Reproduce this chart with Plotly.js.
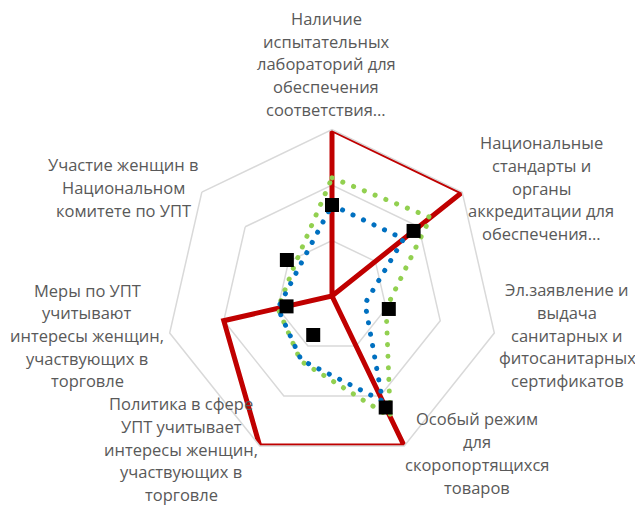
<!DOCTYPE html>
<html>
<head>
<meta charset="utf-8">
<script src="https://cdn.plot.ly/plotly-3.0.1.min.js"></script>
<style>
  html, body { margin: 0; padding: 0; background: #ffffff; }
  #chart { width: 635px; height: 506px; }
  .scatterlayer path.js-line { stroke-linecap: round; }
</style>
</head>
<body>
<div id="chart"></div>
<script>
// Categories (radar axes, clockwise from top); "\n" marks the wrapped lines
const categories = [
  "Наличие\nиспытательных\nлабораторий для\nобеспечения\nсоответствия…",
  "Национальные\nстандарты и\nорганы\nаккредитации для\nобеспечения…",
  "Эл.заявление и\nвыдача\nсанитарных и\nфитосанитарных\nсертификатов",
  "Особый режим\nдля\nскоропортящихся\nтоваров",
  "Политика в сфере\nУПТ учитывает\nинтересы женщин,\nучаствующих в\nторговле",
  "Меры по УПТ\nучитывают\nинтересы женщин,\nучаствующих в\nторговле",
  "Участие женщин в\nНациональном\nкомитете по УПТ"
];

// Series values (scale 0–3)
const redValues   = [3.0, 3.0, 0.0, 3.0, 3.0, 2.0, 0.0];
const greenValues = [2.13, 2.27, 1.0, 2.42, 1.3, 1.0, 0.87];
const blueValues  = [1.64, 1.65, 0.61, 2.10, 1.28, 1.0, 0.78];
const blackValues = [1.64, 1.88, 1.05, 2.23, 0.78, 0.84, 1.04];

const radialTicks = [0, 1, 2, 3];

// label block centres in pixels (layout, not data)
const labelPos = [
  [326, 64], [541, 188], [567, 335], [477, 453],
  [181, 449], [87, 335.5], [123, 187.5]
];
const lineStep = 22.7;

const W = 635, H = 506;
const cx = 332, cy = 296, R = 166.5;

function closed(arr) { return arr.concat([arr[0]]); }

const traces = [
  {
    type: 'scatterpolar', mode: 'lines',
    r: closed(redValues), theta: closed(categories),
    line: { color: '#C00000', width: 5 },
    hoverinfo: 'skip', showlegend: false
  },
  {
    type: 'scatterpolar', mode: 'lines',
    r: closed(greenValues), theta: closed(categories),
    line: { color: '#92D050', width: 5, dash: '0.1px,11.5px' },
    hoverinfo: 'skip', showlegend: false
  },
  {
    type: 'scatterpolar', mode: 'lines',
    r: closed(blueValues), theta: closed(categories),
    line: { color: '#0070C0', width: 5, dash: '0.1px,11.5px' },
    hoverinfo: 'skip', showlegend: false
  },
  {
    type: 'scatterpolar', mode: 'markers',
    r: blackValues, theta: categories,
    marker: { symbol: 'square', size: 14, color: '#000000', line: { width: 0 } },
    hoverinfo: 'skip', showlegend: false
  }
];

const annotations = [];
categories.forEach((c, i) => {
  const lines = c.split('\n');
  const n = lines.length;
  lines.forEach((ln, j) => {
    const py = labelPos[i][1] + (j - (n - 1) / 2) * lineStep;
    annotations.push({
      xref: 'paper', yref: 'paper',
      x: labelPos[i][0] / W, y: 1 - py / H,
      xanchor: 'center', yanchor: 'middle',
      text: ln, showarrow: false, align: 'center',
      font: { family: 'Open Sans, sans-serif', size: 16.5, color: '#595959' }
    });
  });
});

const layout = {
  width: W, height: H,
  margin: { l: 0, r: 0, t: 0, b: 0 },
  paper_bgcolor: '#ffffff',
  plot_bgcolor: '#ffffff',
  showlegend: false,
  polar: {
    domain: { x: [(cx - R) / W, (cx + R) / W], y: [1 - (cy + R) / H, 1 - (cy - R) / H] },
    bgcolor: '#ffffff',
    gridshape: 'linear',
    radialaxis: {
      range: [0, 3], tickvals: radialTicks, showticklabels: false, ticks: '',
      showline: false, gridcolor: '#D9D9D9', gridwidth: 1.5
    },
    angularaxis: {
      type: 'category', categoryarray: categories,
      direction: 'clockwise', rotation: 90,
      showticklabels: false, ticks: '', showgrid: false,
      showline: true, linecolor: '#D9D9D9', linewidth: 1.5
    }
  },
  annotations: annotations
};

Plotly.newPlot('chart', traces, layout, { staticPlot: true, displayModeBar: false });
</script>
</body>
</html>
